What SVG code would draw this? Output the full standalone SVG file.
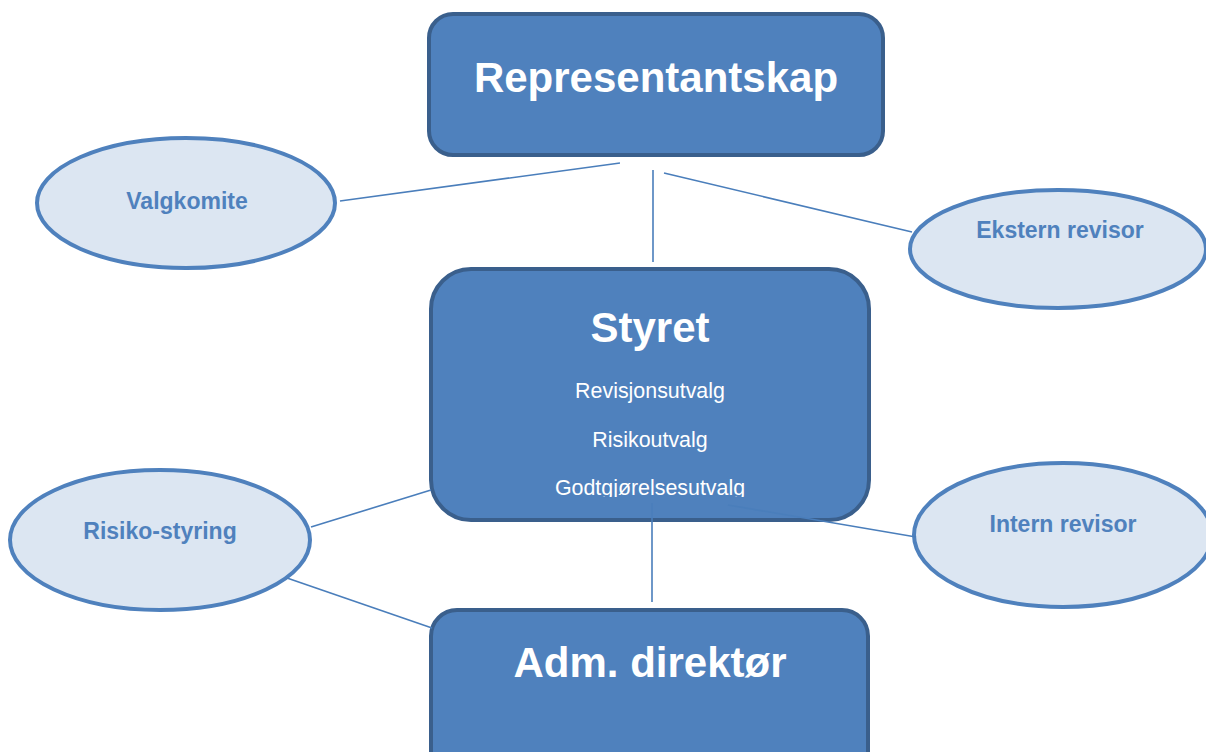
<svg xmlns="http://www.w3.org/2000/svg" width="1206" height="752" viewBox="0 0 1206 752">
<style>
.box{fill:#4f81bd;stroke:#3a5f8c;stroke-width:4}
.ell{fill:#dce6f2;stroke:#4f81bd;stroke-width:4}
.conn{stroke:#4a7ebb;stroke-width:1.6;fill:none}
.big{font-family:"Liberation Sans",Arial,sans-serif;font-weight:bold;font-size:42px;fill:#ffffff;text-anchor:middle}
.sub{font-family:"Liberation Sans",Arial,sans-serif;font-size:21.4px;fill:#ffffff;text-anchor:middle}
.lab{font-family:"Liberation Sans",Arial,sans-serif;font-weight:bold;font-size:23px;fill:#4f81bd;text-anchor:middle}
</style>
<defs>
<clipPath id="clipSub"><rect x="430" y="269" width="440" height="228"/></clipPath>
</defs>
<rect width="1206" height="752" fill="#ffffff"/>
<g id="representantskap">
<rect class="box" x="429" y="14" width="454" height="141" rx="24"/>
<text class="big" x="656" y="92">Representantskap</text>
</g>
<g id="styret">
<rect class="box" x="431" y="269" width="438" height="251" rx="40"/>
<text class="big" x="650" y="342">Styret</text>
<text class="sub" x="650" y="398">Revisjonsutvalg</text>
<text class="sub" x="650" y="447">Risikoutvalg</text>
<text class="sub" x="650" y="495" clip-path="url(#clipSub)">Godtgjørelsesutvalg</text>
</g>
<g id="adm">
<rect class="box" x="431" y="610" width="437" height="170" rx="26"/>
<text class="big" x="650" y="677">Adm. direktør</text>
</g>
<g id="valgkomite">
<ellipse class="ell" cx="186" cy="203" rx="149" ry="65"/>
<text class="lab" x="187" y="209">Valgkomite</text>
</g>
<g id="ekstern">
<ellipse class="ell" cx="1058" cy="249" rx="148" ry="59"/>
<text class="lab" x="1060" y="238">Ekstern revisor</text>
</g>
<g id="risiko">
<ellipse class="ell" cx="160" cy="540" rx="150" ry="70"/>
<text class="lab" x="160" y="539">Risiko-styring</text>
</g>
<g id="intern">
<ellipse class="ell" cx="1063" cy="535" rx="149" ry="72"/>
<text class="lab" x="1063" y="532">Intern revisor</text>
</g>
<g id="connectors">
<line class="conn" x1="340" y1="201" x2="620" y2="163"/>
<line class="conn" x1="653" y1="170" x2="653" y2="262"/>
<line class="conn" x1="664" y1="173" x2="912" y2="232"/>
<line class="conn" x1="311" y1="527" x2="431" y2="490"/>
<line class="conn" x1="287" y1="578" x2="432" y2="628"/>
<line class="conn" x1="652" y1="503" x2="652" y2="602"/>
<line class="conn" x1="728" y1="505" x2="916" y2="537"/>
</g>
</svg>
